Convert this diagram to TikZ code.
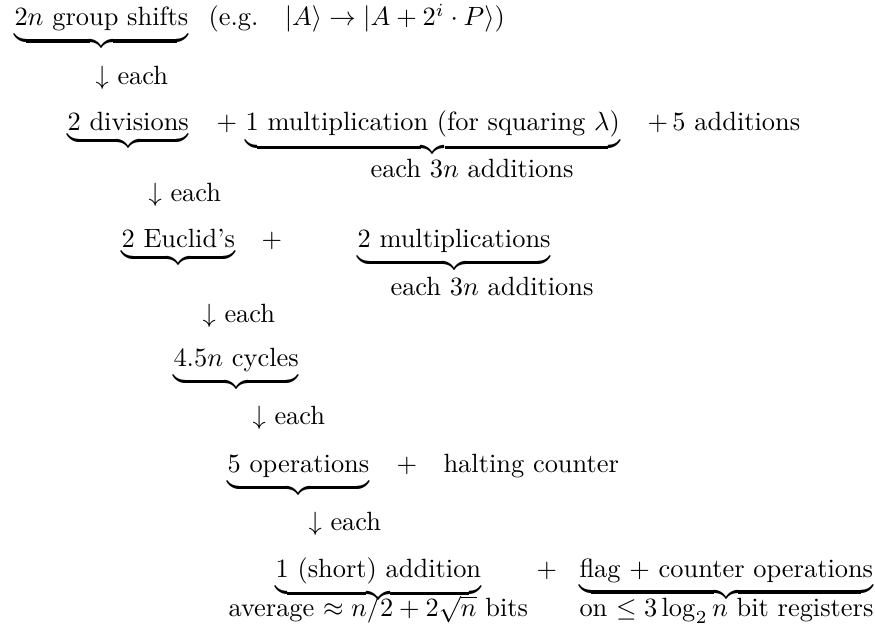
\documentclass[tikz,border=0pt]{standalone}
\usepackage{tikz}
\newcommand{\brc}[1]{$\underbrace{\mbox{#1}}$}

\begin{document}
\begin{tikzpicture}[x=0.3788pt, y=-0.3788pt,
  every node/.style={anchor=base west, inner sep=0pt}]
\useasboundingbox (0,0) rectangle (875,637);
% top level
\node (shifts) at (14,26) {\brc{$2n$ group shifts}};
\node (eg) at (208,26) {(e.g.\quad $|A\rangle \to |A + 2^i \cdot P\rangle$)};
\node (each1) at (95,85) {$\downarrow$ each};
% divisions
\node (divs) at (67,131) {\brc{2 divisions}};
\node (plus1) at (216,131) {$+$};
\node (mult) at (245,131) {\brc{1 multiplication (for squaring $\lambda$)}};
\node (adds) at (647,131) {$+\,5$ additions};
\node (multadd) at (370,178) {each $3n$ additions};
\node (each2) at (148,202) {$\downarrow$ each};
% euclid
\node (euclid) at (121,248) {\brc{2 Euclid's}};
\node (plus2) at (261,248) {$+$};
\node (mults) at (357,248) {\brc{2 multiplications}};
\node (multsadd) at (390,296) {each $3n$ additions};
\node (each3) at (202,323) {$\downarrow$ each};
% cycles
\node (cycles) at (173,367) {\brc{$4.5n$ cycles}};
\node (each4) at (252,425) {$\downarrow$ each};
% operations
\node (ops) at (227,473) {\brc{5 operations}};
\node (plus3) at (396,473) {$+$};
\node (halt) at (443,473) {halting counter};
\node (each5) at (308,531) {$\downarrow$ each};
% bottom level
\node (short) at (275,577) {\brc{1 (short) addition}};
\node (plus4) at (536,577) {$+$};
\node (flag) at (579,577) {\brc{flag $+$ counter operations}};
\node (avg) at (228,617) {average $\approx n/2 + 2\sqrt{n}$ bits};
\node (regs) at (579,617) {on $\leq 3\log_2 n$ bit registers};
\end{tikzpicture}
\end{document}
